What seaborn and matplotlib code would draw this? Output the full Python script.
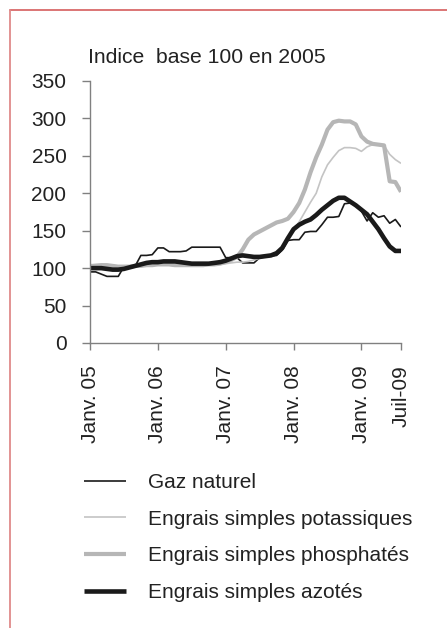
import numpy as np
import pandas as pd
import matplotlib
matplotlib.use("Agg")
import matplotlib.pyplot as plt
from matplotlib.lines import Line2D
import seaborn as sns

# ---- data (monthly index, Jan 2005 .. mid 2009) ----
tick_labels = ["Janv. 05", "Janv. 06", "Janv. 07", "Janv. 08", "Janv. 09", "Juil-09"]
tick_months = [0, 12, 24, 36, 48, 55]

gaz_naturel = [95, 95, 92, 89, 89, 89, 102, 102, 103, 117, 117, 118,
               127, 127, 122, 122, 122, 123, 128, 128, 128, 128, 128, 128,
               114, 114, 114, 107, 107, 107, 114, 115, 116, 117, 124, 137,
               138, 138, 148, 149, 149, 158, 168, 168, 169, 186, 187, 184,
               176, 163, 174, 168, 170, 160, 165, 155]

potassiques = [104, 105, 105, 104, 103, 103, 102, 102, 102, 103, 104, 104,
               104, 104, 104, 103, 103, 103, 103, 103, 103, 104, 104, 105,
               106, 107, 108, 108, 109, 111, 113, 115, 117, 120, 125, 138,
               150, 162, 175, 188, 200, 222, 238, 248, 257, 261, 261, 260,
               256, 262, 265, 265, 264, 252, 245, 240]

phosphates = [103, 103, 104, 104, 103, 102, 102, 102, 103, 103, 104, 104,
              105, 105, 105, 104, 104, 104, 104, 104, 104, 105, 105, 106,
              108, 111, 115, 125, 138, 145, 149, 153, 157, 161, 163, 166,
              175, 187, 205, 228, 248, 265, 285, 295, 297, 296, 296, 292,
              276, 269, 266, 265, 264, 216, 215, 202]

azotes = [100, 100, 100, 99, 98, 98, 99, 101, 103, 105, 107, 108,
          108, 109, 109, 109, 108, 107, 106, 106, 106, 106, 107, 108,
          110, 113, 116, 117, 116, 115, 115, 116, 117, 120, 127, 140,
          152, 158, 162, 165, 171, 178, 184, 190, 194, 194, 189, 184,
          178, 172, 162, 152, 140, 129, 123, 123]

series_names = ["Gaz naturel", "Engrais simples potassiques",
                "Engrais simples phosphatés", "Engrais simples azotés"]

months = np.arange(len(gaz_naturel))
df = pd.DataFrame({"mois": months,
                   series_names[0]: gaz_naturel,
                   series_names[1]: potassiques,
                   series_names[2]: phosphates,
                   series_names[3]: azotes})

sns.set_theme(style="white")
plt.rcParams["font.family"] = ["Liberation Sans", "DejaVu Sans"]
text_color = "#222222"

fig = plt.figure(figsize=(4.47, 6.28), dpi=100)
ax = fig.add_axes([90 / 447, 1 - 343 / 628, (401 - 90) / 447, (343 - 81) / 628])

styles = {
    series_names[0]: dict(color="#1a1a1a", lw=1.2),
    series_names[1]: dict(color="#c4c4c4", lw=1.2),
    series_names[2]: dict(color="#b6b6b6", lw=3.0),
    series_names[3]: dict(color="#1a1a1a", lw=3.3),
}
for name in series_names:
    sns.lineplot(data=df, x="mois", y=name, ax=ax, label=name,
                 color=styles[name]["color"], linewidth=styles[name]["lw"],
                 solid_capstyle="butt", solid_joinstyle="round")

ax.set_xlim(0, 55)
ax.set_ylim(0, 350)
ax.set_yticks(np.arange(0, 351, 50))
ax.set_xticks(tick_months)
ax.set_xticklabels(tick_labels, rotation=90, ha="center", va="top")
ax.set_xlabel("")
ax.set_ylabel("")
for s in ["top", "right"]:
    ax.spines[s].set_visible(False)
for s in ["left", "bottom"]:
    ax.spines[s].set_color("#808080")
    ax.spines[s].set_linewidth(1.0)
ax.tick_params(axis="y", direction="out", length=6, width=1.0, color="#808080",
               pad=11, labelsize=15, labelcolor=text_color, left=True)
ax.tick_params(axis="x", direction="out", length=5, width=1.0, color="#808080",
               pad=11, labelsize=15, labelcolor=text_color, bottom=True)

fig.text(88 / 447, 1 - 63 / 628, "Indice  base 100 en 2005", fontsize=15.2,
         color=text_color, va="baseline", ha="left")

leg = ax.legend(loc="upper left", bbox_to_anchor=(84 / 447, 1 - 473 / 628),
                bbox_transform=fig.transFigure, frameon=False, fontsize=15,
                handlelength=2.0, handletextpad=1.05, labelspacing=0.85,
                borderpad=0, borderaxespad=0)
for t in leg.get_texts():
    t.set_color(text_color)

# red frame
fig.add_artist(Line2D([10 / 447, 1.0], [1 - 10 / 628, 1 - 10 / 628],
                      transform=fig.transFigure, color="#d96a6a", lw=1.3))
fig.add_artist(Line2D([10 / 447, 10 / 447], [1 - 10 / 628, 0],
                      transform=fig.transFigure, color="#df8a8a", lw=1.3))

fig.savefig("out.png", dpi=100, facecolor="white")
